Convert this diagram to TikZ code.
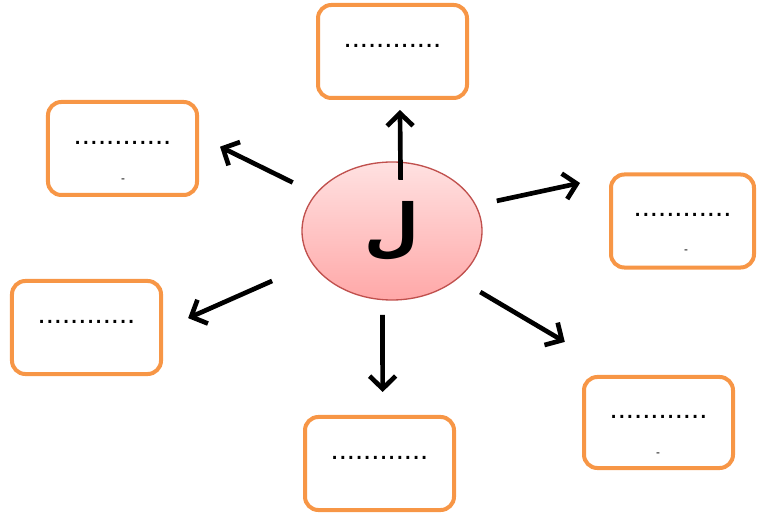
\documentclass[tikz,border=0pt]{standalone}
\usepackage{fontspec}
\setmainfont{Liberation Sans}
\newfontfamily\arabicfont[Script=Arabic]{DejaVu Sans}
\TeXXeTstate=1
\usetikzlibrary{shapes.geometric,arrows.meta}
\definecolor{boxorange}{HTML}{F79646}
\definecolor{ovaltop}{HTML}{FFE1E1}
\definecolor{ovalbottom}{HTML}{FFA8A8}
\definecolor{ovalline}{HTML}{C0504D}
\begin{document}
\begin{tikzpicture}[x=0.03cm,y=-0.03cm,
  box/.style={rectangle,draw=boxorange,line width=0.12cm,rounded corners=0.4cm,fill=white,
    minimum width=4.47cm,minimum height=2.79cm,inner sep=0pt,outer sep=0pt,
    text height=0pt,text depth=0.25cm,font=\fontsize{25}{30}\selectfont},
  oval/.style={ellipse,draw=ovalline,line width=0.04cm,top color=ovaltop,bottom color=ovalbottom,
    minimum width=5.4cm,minimum height=4.14cm,inner sep=0pt,outer sep=0pt},
  note/.style={inner sep=0pt,font=\fontsize{10}{12}\selectfont},
  arr/.style={-{Straight Barb[length=0.38cm,width=0.78cm]},line width=0.14cm}]
\useasboundingbox (0,0) rectangle (757,515);
\node (c) [oval] at (392,231) {\arabicfont\bfseries\fontsize{54}{60}\selectfont\beginR ل\endR};
\node (t) [box] at (392.5,51.5) {............};
\node (ul) [box] at (122.5,148.5) {............};
\node (r) [box,minimum width=4.29cm] at (682.5,221) {............};
\node (l) [box] at (86.5,327.5) {............};
\node (b) [box] at (379.5,463.5) {............};
\node (lr) [box,minimum height=2.73cm] at (658.5,422.5) {............};
\node (uln) [note] at (123,181) {-};
\node (rn) [note] at (686,252) {-};
\node (lrn) [note] at (658,455) {-};

\draw [arr,shorten <=-0.53cm,shorten >=0.36cm] (c.83) -- (t.-81);
\draw [arr,shorten <=0.78cm,shorten >=0.77cm] (c.154) -- (ul.10);
\draw [arr,shorten <=0.65cm,shorten >=0.95cm] (c.17) -- (r.148);
\draw [arr,shorten <=1.32cm,shorten >=0.89cm] (c.202) -- (l.-2);
\draw [arr,shorten <=0.46cm,shorten >=0.75cm] (c.262) -- (b.86);
\draw [arr,shorten <=0.80cm,shorten >=2.07cm] (c.324) -- (lr.127);
\end{tikzpicture}
\end{document}
